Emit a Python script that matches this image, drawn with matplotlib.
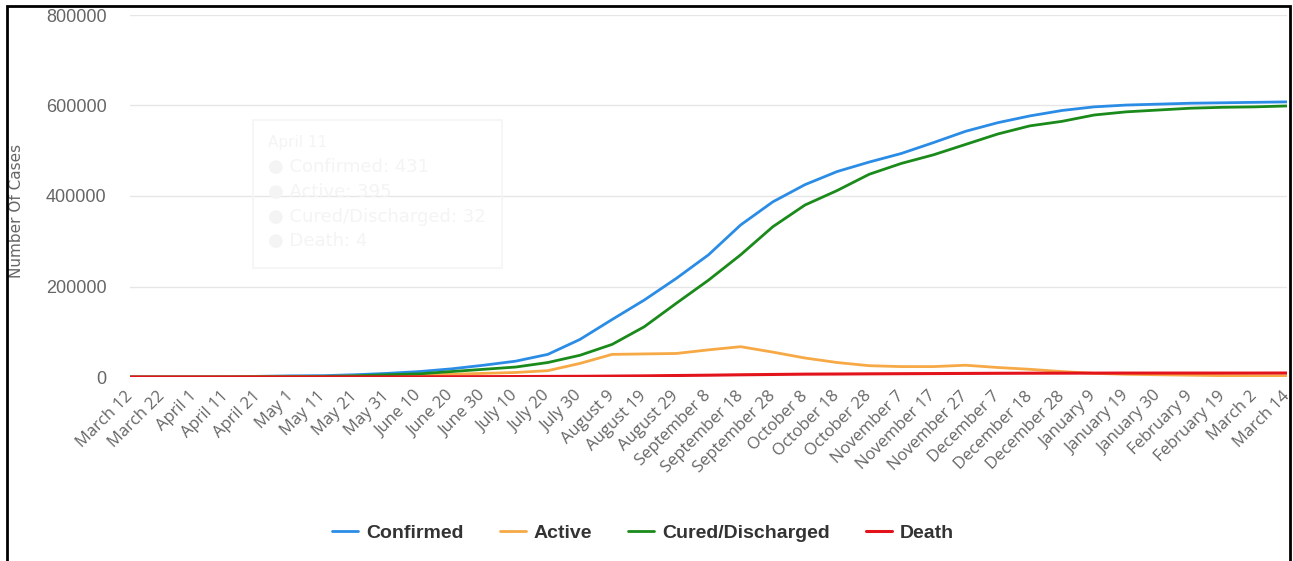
import matplotlib.pyplot as plt
from matplotlib.patches import Rectangle

# Datoer (kategorier) langs x-aksen, hver 10. dag
datoer = [
    "March 12", "March 22", "April 1", "April 11", "April 21", "May 1", "May 11",
    "May 21", "May 31", "June 10", "June 20", "June 30", "July 10", "July 20",
    "July 30", "August 9", "August 19", "August 29", "September 8", "September 18",
    "September 28", "October 8", "October 18", "October 28", "November 7",
    "November 17", "November 27", "December 7", "December 18", "December 28",
    "January 9", "January 19", "January 30", "February 9", "February 19",
    "March 2", "March 14",
]

# Antall tilfeller (lest av fra bildet)
confirmed = [
    0, 30, 100, 400, 1500, 2500, 3000, 5000, 8000, 12000, 18000, 26000, 35000,
    50000, 83000, 127000, 170000, 218000, 270000, 336000, 387000, 425000, 454000,
    475000, 494000, 518000, 543000, 562000, 577000, 589000, 597000, 601000,
    603000, 605000, 606000, 607000, 608000,
]
active = [
    0, 30, 100, 300, 1000, 1000, 1500, 2000, 2500, 4000, 6000, 8000, 10000,
    14000, 30000, 50000, 51000, 52000, 60000, 67000, 55000, 42000, 32000, 25000,
    23000, 23000, 26000, 21000, 17000, 12000, 8000, 6000, 5000, 4000, 3000,
    2500, 2500,
]
cured = [
    0, 0, 0, 0, 300, 600, 1000, 2500, 5000, 7000, 12000, 17000, 22000, 32000,
    48000, 72000, 111000, 163000, 214000, 270000, 332000, 380000, 412000, 448000,
    472000, 491000, 514000, 537000, 555000, 565000, 579000, 586000, 590000,
    594000, 596000, 597000, 599000,
]
death = [
    0, 0, 0, 0, 0, 0, 100, 200, 300, 400, 600, 800, 1000, 1300, 1500, 2000,
    2500, 3300, 4000, 4900, 5600, 6300, 6600, 7000, 7300, 7600, 7900, 8200,
    8400, 8500, 8600, 8700, 8700, 8700, 8700, 8700, 8800,
]

x = list(range(len(datoer)))

fig = plt.figure(figsize=(12.93, 5.61), dpi=100)
ax = fig.add_axes([130 / 1293, 1 - 377 / 561, (1287 - 130) / 1293, (377 - 15) / 561])

ax.plot(x, confirmed, color='#2b8ce6', lw=2, label='Confirmed', solid_capstyle='round')
ax.plot(x, active, color='#f6a945', lw=2, label='Active', solid_capstyle='round')
ax.plot(x, cured, color='#1a8a1a', lw=2, label='Cured/Discharged', solid_capstyle='round')
ax.plot(x, death, color='#e3131b', lw=2.2, label='Death', solid_capstyle='round')

ax.set_xlim(0, len(datoer) - 1)
ax.set_ylim(0, 800000)
ax.set_yticks([0, 200000, 400000, 600000, 800000])
ax.set_yticklabels(['0', '200000', '400000', '600000', '800000'],
                   fontsize=13, family='Liberation Sans', color='#666666')
ax.set_xticks(x)
ax.set_xticklabels(datoer, rotation=45, ha='right', va='center',
                   rotation_mode='anchor', fontsize=12, family='Open Sans',
                   color='#666666')
ax.tick_params(axis='y', length=0, pad=17)
ax.tick_params(axis='x', length=0, pad=12)
ax.grid(axis='y', color='#e6e6e6', lw=1)
ax.set_axisbelow(True)
for s in ax.spines.values():
    s.set_visible(False)

fig.text(17 / 1293, 1 - 211 / 561, 'Number Of Cases', rotation=90, ha='center',
         va='center', fontsize=11, color='#666666')

# Svak "spøkelses"-tooltip fra skjermbildet
fig.patches.append(Rectangle((253 / 1293, 1 - 268 / 561), 249 / 1293, 148 / 561,
                             transform=fig.transFigure, fill=False,
                             edgecolor='#f5f5f5', lw=1.2, zorder=0))
tips = ['April 11', '● Confirmed: 431', '● Active: 395',
        '● Cured/Discharged: 32', '● Death: 4']
for i, t in enumerate(tips):
    fig.text(268 / 1293, 1 - (143 + i * 24.5) / 561, t, fontsize=11 if i == 0 else 13,
             color='#f4f4f4', va='center', zorder=0)

# Ramme rundt hele bildet
fig.patches.append(Rectangle((7 / 1293, -0.01), 1283 / 1293, 1 - 6 / 561 + 0.01,
                             transform=fig.transFigure, fill=False,
                             edgecolor='black', lw=2, zorder=10))

leg = fig.legend(loc='center', bbox_to_anchor=(643 / 1293, 1 - 533 / 561), ncol=4,
                 frameon=False, handlelength=1.35, columnspacing=1.85,
                 handletextpad=0.4,
                 prop={'family': 'Liberation Sans', 'weight': 'bold', 'size': 14})
for t in leg.get_texts():
    t.set_color('#333333')

fig.savefig('out.png', dpi=100)
